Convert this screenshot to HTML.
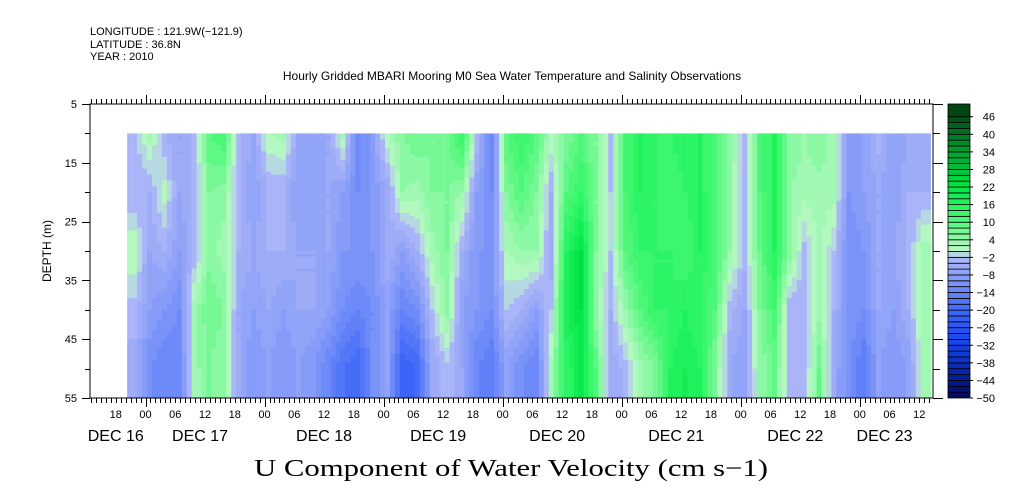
<!DOCTYPE html>
<html><head><meta charset="utf-8">
<style>
html,body{margin:0;padding:0;background:#fff;}
svg{display:block;font-family:"Liberation Sans",sans-serif;}
</style></head>
<body>
<svg id="chart" width="1009" height="504" viewBox="0 0 1009 504" xmlns="http://www.w3.org/2000/svg">
<g font-size="11" fill="#000">
<text x="90" y="35">LONGITUDE : 121.9W(−121.9)</text>
<text x="90" y="48">LATITUDE : 36.8N</text>
<text x="90" y="60">YEAR : 2010</text>
</g>
<text x="512" y="80" font-size="12" text-anchor="middle">Hourly Gridded MBARI Mooring M0 Sea Water Temperature and Salinity Observations</text>
<text transform="translate(51,251) rotate(-90)" font-size="12" text-anchor="middle">DEPTH (m)</text>
<text x="254" y="476" font-family="'Liberation Serif',serif" font-size="24" textLength="514" lengthAdjust="spacingAndGlyphs">U Component of Water Velocity (cm s−1)</text>
<g id="heat"></g>
<g id="axes"></g>
<g id="cbar"></g>
</svg>
<script>
// depths of the data rows (m)
const depths = [10, 20, 30, 40, 50];
// column start hour relative to Dec 17 00:00, and hours per column
const colStartHour = -3.7;
const colStepHours = 3;
// U velocity (cm/s) per 3-hour column, one array per depth row
const u10 = [-3,3,-4,-6,-4,10,12,-4,-6,2,3,-6,-8,-6,3,-14,-8,2,
             6,8,6,8,14,-2,-14,10,14,10,2,6,10,6,-3,12,16,14,
             14,16,16,10,6,-4,10,16,6,4,6,3,-8,-8,-3,-8,-6,-6];
const u20 = [-4,-4,1,-6,-4,6,5,-4,-8,-4,-4,-8,-8,-6,-8,-12,-10,-6,
             4,3,6,6,4,-8,-12,6,10,6,-4,10,14,6,-2,12,16,14,
             12,14,16,10,4,-4,10,16,4,3,3,3,-10,-8,-6,-8,-4,-4];
const u30 = [2,-6,-4,-8,-4,5,3,-4,-6,-4,-4,-6,-6,-6,-10,-10,-10,-4,
             -8,-4,3,6,-4,-10,-10,2,4,4,-6,16,22,6,-2,10,14,14,
             14,12,16,12,4,-3,8,16,6,-3,3,-2,-12,-10,-6,-6,-4,3];
const u40 = [-3,-8,-10,-12,3,8,6,-6,-8,-6,-8,-6,-6,-8,-12,-14,-12,-8,
             -14,-12,-2,5,-8,-10,-12,-2,-4,-8,-2,18,22,4,-4,4,10,14,
             14,16,14,10,-3,-6,6,12,-4,-4,3,-4,-10,-12,-6,-8,-4,3];
const u50 = [-5,-12,-14,-14,3,6,4,-6,-10,-8,-10,-8,-10,-14,-18,-20,-12,-8,
             -22,-20,-6,-3,-6,-14,-16,-8,-12,-14,3,14,20,10,-6,-3,3,6,
             16,18,16,6,-6,-8,4,8,-4,-4,8,-6,-12,-16,-8,-10,-8,3];
const rows = [u10, u20, u30, u40, u50];
// tick label arrays
const depthTicks = [5, 15, 25, 35, 45, 55];
const hourLabels = ["18","00","06","12","18","00","06","12","18","00","06","12","18","00","06","12","18","00","06","12","18","00","06","12","18","00","06","12"];
const hourLabelStart = -6; // first hour label (Dec 16 18:00)
const dayLabels = ["DEC 16","DEC 17","DEC 18","DEC 19","DEC 20","DEC 21","DEC 22","DEC 23"];
const dayLabelHours = [-6, 11, 36, 59, 83, 107, 131, 149];
const cbarLabels = [46,40,34,28,22,16,10,4,-2,-8,-14,-20,-26,-32,-38,-44,-50];

const NS = "http://www.w3.org/2000/svg";
const X0 = 90, X1 = 933, Y0 = 104, Y1 = 398;
const hourPx = 4.96, hour0X = 145.5;
const xOf = h => hour0X + h * hourPx;
const yOf = d => Y0 + (d - 5) * (Y1 - Y0) / 50;
const tMin = (X0 - hour0X) / hourPx, tMax = (X1 - hour0X) / hourPx;

function mk(tag, attrs, parent) {
  const e = document.createElementNS(NS, tag);
  for (const k in attrs) e.setAttribute(k, attrs[k]);
  parent.appendChild(e);
  return e;
}
function lerpC(a, b, f) {
  return [0,1,2].map(i => Math.round(a[i] + (b[i] - a[i]) * f));
}
const stops = [
  [-50,[0,8,96]],[-40,[8,40,180]],[-30,[24,72,240]],[-20,[64,104,248]],
  [-10,[128,152,248]],[-2,[176,184,248]],[0,[188,248,200]],[4,[150,248,172]],
  [10,[84,248,124]],[16,[36,244,96]],[22,[0,228,68]],[34,[0,160,48]],[48,[0,64,16]]
];
function colorOf(v) {
  const b = Math.floor(v / 2) * 2 + 1; // quantize to 2-unit bins
  let c = stops[0][1];
  if (b >= stops[stops.length-1][0]) c = stops[stops.length-1][1];
  else for (let i = 0; i < stops.length - 1; i++) {
    if (b >= stops[i][0] && b < stops[i+1][0]) {
      c = lerpC(stops[i][1], stops[i+1][1], (b - stops[i][0]) / (stops[i+1][0] - stops[i][0]));
      break;
    }
  }
  return "rgb(" + c.join(",") + ")";
}
function valueAt(t, d) {
  const nc = rows[0].length;
  let ci = (t - colStartHour) / colStepHours - 0.5;
  ci = Math.max(0, Math.min(nc - 1, ci));
  const c0 = Math.floor(ci), c1 = Math.min(nc - 1, c0 + 1), fc = ci - c0;
  let ri = 0, fr = 0;
  if (d >= depths[depths.length-1]) { ri = depths.length - 1; fr = 0; }
  else for (let i = 0; i < depths.length - 1; i++) {
    if (d >= depths[i] && d < depths[i+1]) { ri = i; fr = (d - depths[i]) / (depths[i+1] - depths[i]); break; }
  }
  const r1 = Math.min(depths.length - 1, ri + 1);
  const a = rows[ri][c0] * (1 - fc) + rows[ri][c1] * fc;
  const b = rows[r1][c0] * (1 - fc) + rows[r1][c1] * fc;
  return a * (1 - fr) + b * fr;
}

// heatmap
const heat = document.getElementById("heat");
const nCols = rows[0].length;
const tEnd = Math.min(tMax, colStartHour + nCols * colStepHours);
const dStep = 0.5;
for (let t = colStartHour; t < tEnd - 1e-6; t += 1) {
  const t2 = Math.min(t + 1, tEnd);
  let runStart = depths[0], runCol = null;
  for (let d = depths[0]; d <= 55 + 1e-6; d += dStep) {
    const col = d < 55 ? colorOf(valueAt(t + 0.5, d + dStep / 2)) : null;
    if (col !== runCol) {
      if (runCol !== null) {
        const r = mk("rect", {x: xOf(t).toFixed(2), y: yOf(runStart).toFixed(2),
          width: (xOf(t2) - xOf(t) + 0.3).toFixed(2), height: (yOf(d) - yOf(runStart) + 0.3).toFixed(2), fill: runCol}, heat);
        
        
      }
      runCol = col; runStart = d;
    }
  }
}

// axes
const ax = document.getElementById("axes");
const frame = mk("rect", {x: X0, y: Y0, width: X1 - X0, height: Y1 - Y0, fill: "none", stroke: "#000", "stroke-width": 1}, ax);


let tickPath = "";
for (let h = Math.ceil(tMin); h <= tMax; h++) {
  const x = Math.round(xOf(h)) + 0.5;
  const isDay = ((h % 24) + 24) % 24 === 0;
  const len = isDay ? 9 : 5;
  tickPath += `M${x},${Y1}v${len}M${x},${Y0}v${-len}`;
}
for (let d = 5; d <= 55; d += 5) {
  const y = Math.round(yOf(d)) + 0.5;
  const len = (d % 10 === 5) ? 8 : 5;
  tickPath += `M${X0},${y}h${-len}M${X1},${y}h${len + 2}`;
}
const tp = mk("path", {d: tickPath, stroke: "#000", "stroke-width": 1, fill: "none"}, ax);


depthTicks.forEach(d => {
  const t = mk("text", {x: 77, y: yOf(d) + 4, "font-size": 11, "text-anchor": "end"}, ax);
  t.textContent = d;
  
  
});
hourLabels.forEach((lab, i) => {
  const h = hourLabelStart + i * 6;
  const t = mk("text", {x: xOf(h), y: 418, "font-size": 11, "text-anchor": "middle"}, ax);
  t.textContent = lab;
  
  
});
dayLabels.forEach((lab, i) => {
  const t = mk("text", {x: xOf(dayLabelHours[i]), y: 441, "font-size": 16, "text-anchor": "middle"}, ax);
  t.textContent = lab;
  
  
});

// colorbar
const cb = document.getElementById("cbar");
const CBX = 948, CBW = 22, cbPer = 2.93;
const cbY = v => Y1 - (v + 50) * cbPer;
for (let v = -50; v < 48; v += 2) {
  const top = (v + 2 >= 48) ? Y0 : cbY(v + 2);
  const r = mk("rect", {x: CBX, y: top.toFixed(2), width: CBW, height: (cbY(v) - top).toFixed(2), fill: colorOf(v + 0.5), stroke: "#000", "stroke-width": 0.8}, cb);
  
  
}
cbarLabels.forEach(v => {
  const t = mk("text", {x: 995, y: cbY(v) + 4, "font-size": 11, "text-anchor": "end"}, cb);
  t.textContent = v < 0 ? "−" + (-v) : v;
  
  
  const tk = mk("line", {x1: CBX + CBW, x2: CBX + CBW + 3, y1: cbY(v), y2: cbY(v), stroke: "#000"}, cb);
  
  
});
</script>
</body></html>
